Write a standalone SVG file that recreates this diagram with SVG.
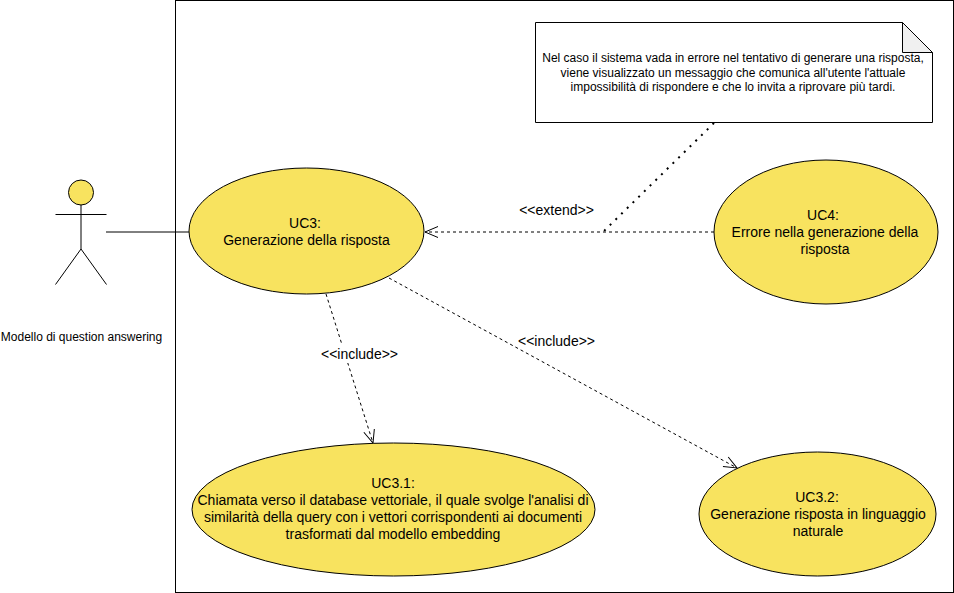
<svg xmlns="http://www.w3.org/2000/svg" width="954" height="593" viewBox="0 0 954 593">
<style>
text{font-family:"Liberation Sans",Arial,sans-serif;font-size:14px;fill:#000;text-anchor:middle}
.uc{fill:#F8E35F;stroke:#000;stroke-width:1}
.ln{fill:none;stroke:#000;stroke-width:1}
.dash{stroke-dasharray:3 3}
.dot{stroke-width:2;stroke-dasharray:2 6}
.small{font-size:12px}
</style>
<defs>
<marker id="open" markerUnits="userSpaceOnUse" markerWidth="16" markerHeight="16" refX="14" refY="8" orient="auto"><path d="M1 2.500L14 8L1 13.500" fill="none" stroke="#000"/></marker>
</defs>
<rect width="954" height="593" fill="#fff"/>
<rect id="boundary" x="175.500" y="0.500" width="778" height="592" fill="#fff" stroke="#000"/>
<g id="connectors">
<path class="ln" d="M106 232H189"/>
<path class="ln dash" d="M714 232H425" marker-end="url(#open)"/>
<path class="ln dash" d="M326 294L373 443" marker-end="url(#open)"/>
<path class="ln dash" d="M389 278L737 468" marker-end="url(#open)"/>
<path class="ln dot" d="M714 123L604 231"/>
</g>
<g id="actor">
<circle class="uc" cx="81" cy="192.500" r="12.500"/>
<path class="ln" d="M81 205V249M55.500 214.500H106.500M81 249L55.500 284.500M81 249L106.500 284.500"/>
<text class="small" x="81.500" y="341">Modello di question answering</text>
</g>
<g id="note">
<path d="M535.500 22.500H902.500L932.500 52.500V122.500H535.500Z" fill="#fff" stroke="#000"/>
<path d="M902.500 22.500V52.500H932.500Z" fill="#f0f0f0" stroke="#000"/>
<text class="small" x="733" y="62">Nel caso il sistema vada in errore nel tentativo di generare una risposta,</text>
<text class="small" x="733" y="76.500">viene visualizzato un messaggio che comunica all'utente l'attuale</text>
<text class="small" x="733" y="91">impossibilità di rispondere e che lo invita a riprovare più tardi.</text>
</g>
<g id="uc3">
<ellipse class="uc" cx="306.500" cy="231" rx="117.500" ry="63"/>
<text x="305" y="228">UC3:</text>
<text x="306.500" y="245">Generazione della risposta</text>
</g>
<g id="uc4">
<ellipse class="uc" cx="826" cy="232" rx="112" ry="72"/>
<text x="823" y="220">UC4:</text>
<text x="825" y="237">Errore nella generazione della</text>
<text x="825" y="254">risposta</text>
</g>
<g id="uc31">
<ellipse class="uc" cx="393.500" cy="509.500" rx="201.500" ry="66.500"/>
<text x="393" y="488">UC3.1:</text>
<text x="393" y="505">Chiamata verso il database vettoriale, il quale svolge l'analisi di</text>
<text x="393" y="522">similarità della query con i vettori corrispondenti ai documenti</text>
<text x="393" y="539">trasformati dal modello embedding</text>
</g>
<g id="uc32">
<ellipse class="uc" cx="817.500" cy="514" rx="118.500" ry="62"/>
<text x="817" y="502">UC3.2:</text>
<text x="818" y="519">Generazione risposta in linguaggio</text>
<text x="818" y="536">naturale</text>
</g>
<g id="labels">
<text x="556.500" y="215">&lt;&lt;extend&gt;&gt;</text>
<rect x="320" y="345" width="80" height="18" fill="#fff"/>
<text x="359.500" y="359">&lt;&lt;include&gt;&gt;</text>
<text x="556.500" y="346">&lt;&lt;include&gt;&gt;</text>
</g>
</svg>
